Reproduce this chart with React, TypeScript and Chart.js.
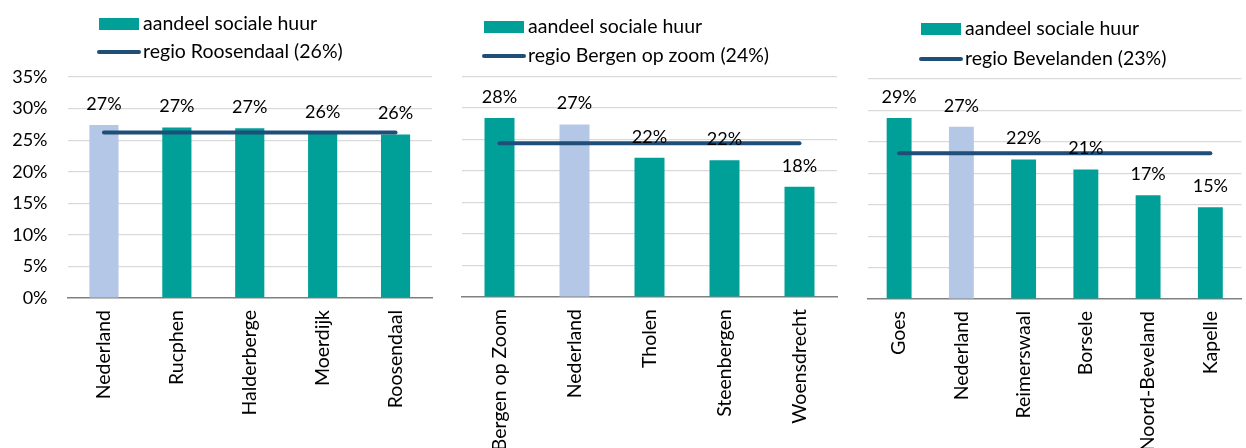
import React, { useEffect, useRef } from "react";
import { Chart, registerables } from "chart.js";

Chart.register(...registerables);

const yTicks = [0, 5, 10, 15, 20, 25, 30, 35];

const cats1 = ["Nederland", "Rucphen", "Halderberge", "Moerdijk", "Roosendaal"];
const vals1 = [27.4, 27.0, 26.9, 26.1, 25.9];
const region1Label = "regio Roosendaal (26%)";
const region1Value = 26.2;

const cats2 = ["Bergen op Zoom", "Nederland", "Tholen", "Steenbergen", "Woensdrecht"];
const vals2 = [28.4, 27.4, 22.1, 21.7, 17.5];
const region2Label = "regio Bergen op zoom (24%)";
const region2Value = 24.4;

const cats3 = ["Goes", "Nederland", "Reimerswaal", "Borsele", "Noord-Beveland", "Kapelle"];
const vals3 = [28.8, 27.4, 22.2, 20.6, 16.5, 14.6];
const region3Label = "regio Bevelanden (23%)";
const region3Value = 23.2;

const barLabel = "aandeel sociale huur";

const TEAL = "#009F98";
const LIGHT = "#B4C7E7";
const NAVY = "#1F4E79";
const FONT = "Lato";
const WORD_SIZE = 19.5;
const NUM_SIZE = 18;

const dataLabelsPlugin = {
  id: "dataLabels",
  afterDatasetsDraw(chart: any) {
    const meta = chart.getDatasetMeta(0);
    const ds = chart.data.datasets[0];
    const ctx = chart.ctx;
    ctx.save();
    ctx.font = `${NUM_SIZE}px ${FONT}`;
    ctx.fillStyle = "#000";
    ctx.textAlign = "center";
    ctx.textBaseline = "middle";
    meta.data.forEach((bar: any, i: number) => {
      ctx.fillText(Math.round(ds.data[i]) + "%", bar.x, bar.y - 21);
    });
    ctx.restore();
  },
};

const legendPlugin = {
  id: "customLegend",
  afterDraw(chart: any, _args: any, opts: any) {
    const ctx = chart.ctx;
    const { x, y1, y2, items } = opts;
    ctx.save();
    ctx.fillStyle = TEAL;
    ctx.fillRect(x, y1 - 6, 40, 12);
    ctx.strokeStyle = NAVY;
    ctx.lineWidth = 4;
    ctx.lineCap = "round";
    ctx.beginPath();
    ctx.moveTo(x, y2);
    ctx.lineTo(x + 40, y2);
    ctx.stroke();
    ctx.font = `${WORD_SIZE}px ${FONT}`;
    ctx.fillStyle = "#000";
    ctx.textAlign = "left";
    ctx.textBaseline = "middle";
    ctx.fillText(items[0], x + 44, y1);
    ctx.fillText(items[1], x + 44, y2);
    ctx.restore();
  },
};

type PanelProps = {
  cats: string[];
  vals: number[];
  regionLabel: string;
  regionValue: number;
  width: number;
  left: number;
  axisWidth: number;
  padRight: number;
  top: number;
  bottom: number;
  showY: boolean;
  legendX: number;
  legendY1: number;
  legendY2: number;
};

function Panel(p: PanelProps) {
  const ref = useRef<HTMLCanvasElement | null>(null);
  useEffect(() => {
    if (!ref.current) return;
    const chart = new Chart(ref.current, {
      type: "bar",
      data: {
        labels: p.cats,
        datasets: [
          {
            type: "bar",
            label: barLabel,
            data: p.vals,
            backgroundColor: p.cats.map((c) => (c === "Nederland" ? LIGHT : TEAL)),
            barPercentage: 0.4,
            categoryPercentage: 1,
            order: 1,
          } as any,
          {
            type: "line",
            label: p.regionLabel,
            data: p.cats.map(() => p.regionValue),
            borderColor: NAVY,
            borderWidth: 4,
            pointRadius: 0,
            borderCapStyle: "round",
            order: 0,
          } as any,
        ],
      },
      options: {
        animation: false,
        responsive: false,
        layout: { padding: { top: p.top, right: p.padRight, left: 0, bottom: 0 } },
        plugins: {
          legend: { display: false },
          tooltip: { enabled: false },
          customLegend: {
            x: p.legendX,
            y1: p.legendY1,
            y2: p.legendY2,
            items: [barLabel, p.regionLabel],
          },
        } as any,
        scales: {
          x: {
            grid: { display: false, drawTicks: false },
            border: { display: true, color: "#808080", width: 1.5 },
            ticks: {
              autoSkip: false,
              maxRotation: 90,
              minRotation: 90,
              padding: 12,
              color: "#000",
              font: { family: FONT, size: WORD_SIZE },
            },
            afterFit: (s: any) => {
              s.height = 448 - p.bottom;
            },
          },
          y: {
            min: 0,
            max: 35,
            afterBuildTicks: (s: any) => {
              s.ticks = yTicks.map((v) => ({ value: v }));
            },
            grid: {
              drawTicks: false,
              color: (c: any) => (c.tick && c.tick.value === 0 ? "rgba(0,0,0,0)" : "#D9D9D9"),
              lineWidth: 1.2,
            },
            border: { display: false },
            ticks: {
              display: p.showY,
              padding: 20,
              color: "#000",
              font: { family: FONT, size: NUM_SIZE },
              callback: (v: any) => v + "%",
            },
            afterFit: (s: any) => {
              s.width = p.axisWidth;
            },
          },
        },
      },
      plugins: [dataLabelsPlugin, legendPlugin],
    });
    return () => chart.destroy();
  }, []);
  return (
    <div style={{ position: "absolute", left: p.left, top: 0, width: p.width, height: 448 }}>
      <canvas ref={ref} width={p.width} height={448} />
    </div>
  );
}

export default function App() {
  return (
    <div style={{ position: "absolute", left: 0, top: 0, width: 1246, height: 448, background: "#fff" }}>
      <Panel
        cats={cats1}
        vals={vals1}
        regionLabel={region1Label}
        regionValue={region1Value}
        width={440}
        left={0}
        axisWidth={67.5}
        padRight={8}
        top={77}
        bottom={298}
        showY={true}
        legendX={99}
        legendY1={24}
        legendY2={52}
      />
      <Panel
        cats={cats2}
        vals={vals2}
        regionLabel={region2Label}
        regionValue={region2Value}
        width={405}
        left={440}
        axisWidth={22}
        padRight={8}
        top={76.5}
        bottom={297}
        showY={false}
        legendX={44}
        legendY1={27}
        legendY2={56}
      />
      <Panel
        cats={cats3}
        vals={vals3}
        regionLabel={region3Label}
        regionValue={region3Value}
        width={401}
        left={845}
        axisWidth={23}
        padRight={3}
        top={79}
        bottom={299}
        showY={false}
        legendX={76}
        legendY1={29}
        legendY2={59}
      />
    </div>
  );
}
